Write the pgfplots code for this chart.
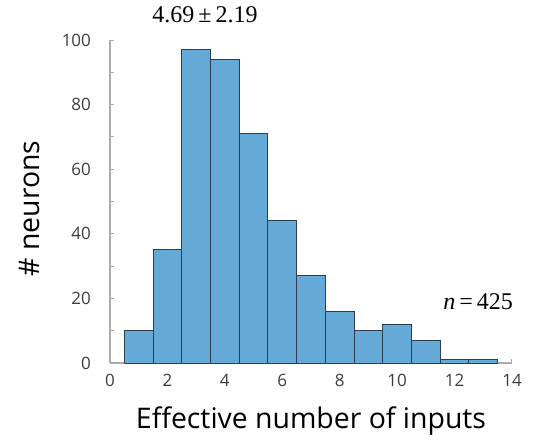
\documentclass[border=0pt]{standalone}
\usepackage{pgfplots}
\pgfplotsset{compat=1.18}
\usepackage{fontspec}
\setmainfont{Open Sans}
\newfontfamily\serif{Liberation Serif}
\definecolor{barfill}{RGB}{101,169,215}
\definecolor{baredge}{RGB}{45,62,80}
\definecolor{axgray}{RGB}{170,170,170}
\definecolor{ticktext}{RGB}{60,60,60}
\begin{document}
\begin{tikzpicture}
\path[use as bounding box] (-55pt,-42pt) rectangle (216.5pt,181.5pt);
\begin{axis}[
  at={(0pt,0pt)}, anchor=south west,
  scale only axis, width=201pt, height=161.5pt,
  xmin=0, xmax=14, ymin=0, ymax=100,
  axis x line*=bottom, axis y line*=left,
  axis line style={axgray, line width=0.6pt},
  xtick={0,2,...,14}, ytick={0,20,...,100},
  minor ytick={10,30,...,90},
  tick align=inside, major tick length=2pt, minor tick length=2pt,
  tick style={axgray, line width=0.5pt},
  ticklabel style={font=\fontsize{8.5}{10}\selectfont, text=ticktext},
  /pgf/number format/assume math mode=true,
  xticklabel style={yshift=-2pt},
  yticklabel style={xshift=-6pt},
  xlabel={Effective number of inputs},
  ylabel={\# neurons},
  label style={font=\fontsize{14.2}{16}\selectfont, text=black},
  xlabel style={yshift=-3pt},
  ylabel style={at={(ticklabel cs:0.478)}, yshift=4pt},
  clip=false,
]
\addplot[ybar interval, fill=barfill, draw=baredge, line width=0.5pt] coordinates {
(0.5,10) (1.5,35) (2.5,97) (3.5,94) (4.5,71) (5.5,44) (6.5,27) (7.5,16) (8.5,10) (9.5,12) (10.5,7) (11.5,1) (12.5,1) (13.5,1)};
\node[font=\serif\fontsize{12}{14}\selectfont] at (axis cs:3.31,107.7) {4.69\,±\,2.19};
\node[font=\serif\fontsize{12}{14}\selectfont] at (axis cs:12.82,18.9) {\textit{n}\,=\,425};
\end{axis}
\end{tikzpicture}
\end{document}
